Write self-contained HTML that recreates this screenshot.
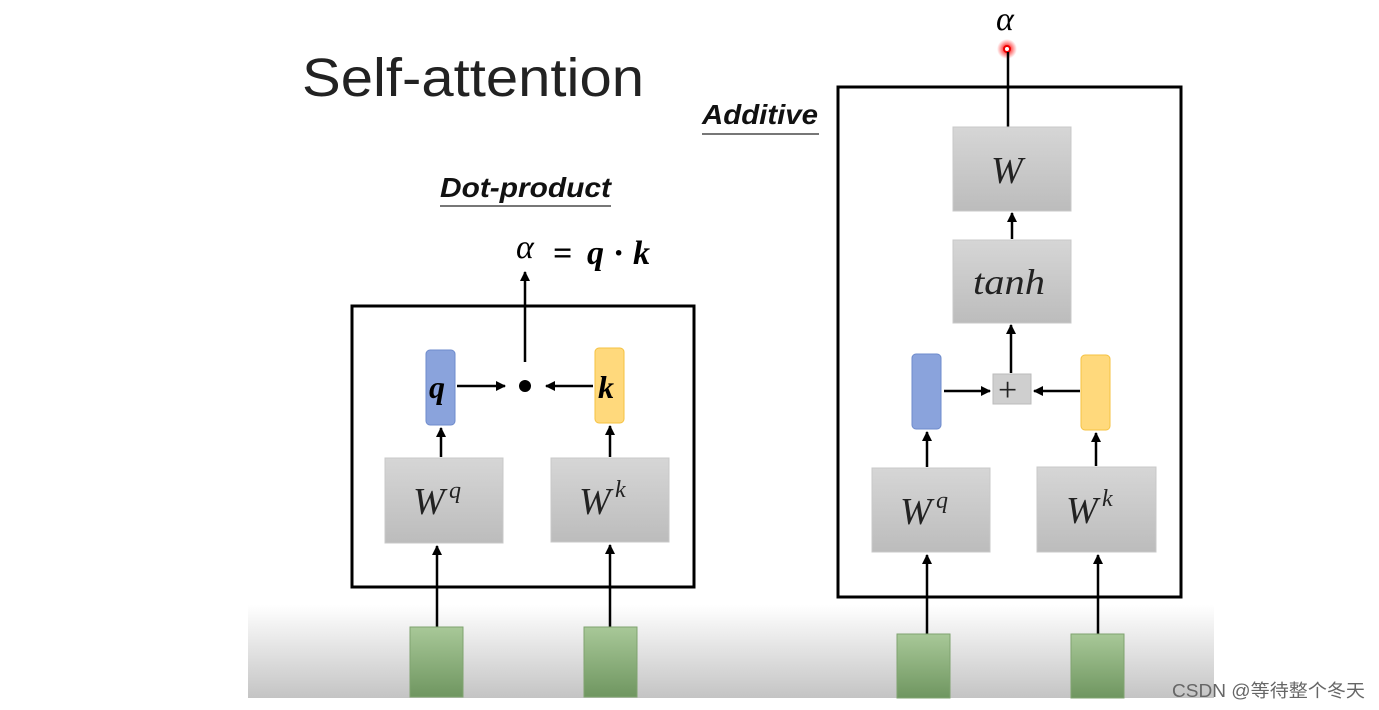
<!DOCTYPE html>
<html><head><meta charset="utf-8"><style>
html,body{margin:0;padding:0;background:#fff;}
svg{display:block;}
text{font-family:"Liberation Serif",serif;}
</style></head><body>
<svg width="1379" height="710" viewBox="0 0 1379 710" xmlns="http://www.w3.org/2000/svg">
<defs>
<linearGradient id="bg" x1="0" y1="0" x2="0" y2="1">
<stop offset="0" stop-color="#ffffff"/><stop offset="1" stop-color="#c4c4c4"/>
</linearGradient>
<linearGradient id="gr" x1="0" y1="0" x2="0" y2="1">
<stop offset="0" stop-color="#d6d6d6"/><stop offset="1" stop-color="#bcbcbc"/>
</linearGradient>
<linearGradient id="gn" x1="0" y1="0" x2="0" y2="1">
<stop offset="0" stop-color="#a8c898"/><stop offset="1" stop-color="#6f9660"/>
</linearGradient>
<radialGradient id="rd"><stop offset="0.3" stop-color="#ff2020" stop-opacity="0.9"/><stop offset="1" stop-color="#ff4040" stop-opacity="0"/></radialGradient>
<marker id="ar" viewBox="0 0 10 10" refX="9" refY="5" markerWidth="4" markerHeight="4" orient="auto"><path d="M0,0 L10,5 L0,10 z" fill="#000"/></marker>
</defs>
<rect x="248" y="605" width="966" height="93" fill="url(#bg)"/>
<text x="302" y="96" font-size="54" fill="#222" textLength="342" lengthAdjust="spacingAndGlyphs" style="font-family:'Liberation Sans',sans-serif">Self-attention</text>
<text x="702" y="124" font-size="28" font-weight="bold" font-style="italic" fill="#111" style="font-family:'Liberation Sans',sans-serif" textLength="116" lengthAdjust="spacingAndGlyphs">Additive</text>
<line x1="702" y1="134" x2="819" y2="134" stroke="#777" stroke-width="2"/>
<text x="440" y="197" font-size="28" font-weight="bold" font-style="italic" fill="#111" style="font-family:'Liberation Sans',sans-serif" textLength="171" lengthAdjust="spacingAndGlyphs">Dot-product</text>
<line x1="440" y1="206" x2="611" y2="206" stroke="#777" stroke-width="2"/>

<!-- Dot-product -->
<text x="516" y="258" font-size="34" font-style="italic">α</text>
<text x="553" y="264" font-size="34" font-weight="bold">=</text>
<text x="587" y="264" font-size="34" font-weight="bold" font-style="italic">q</text>
<text x="613" y="264" font-size="34" font-weight="bold">·</text>
<text x="633" y="264" font-size="34" font-weight="bold" font-style="italic">k</text>
<rect x="352" y="306" width="342" height="281" fill="none" stroke="#000" stroke-width="3"/>
<line x1="525" y1="362" x2="525" y2="272" stroke="#000" stroke-width="2.5" marker-end="url(#ar)"/>
<circle cx="525" cy="386" r="6" fill="#000"/>
<rect x="426" y="350" width="29" height="75" rx="4" fill="#8aa3dc" stroke="#6e8bcc"/>
<text x="429" y="398" font-size="32" font-weight="bold" font-style="italic">q</text>
<rect x="595" y="348" width="29" height="75" rx="4" fill="#ffd97c" stroke="#f5c242"/>
<text x="598" y="398" font-size="32" font-weight="bold" font-style="italic">k</text>
<line x1="457" y1="386" x2="505" y2="386" stroke="#000" stroke-width="2.5" marker-end="url(#ar)"/>
<line x1="593" y1="386" x2="546" y2="386" stroke="#000" stroke-width="2.5" marker-end="url(#ar)"/>
<rect x="385" y="458" width="118" height="85" fill="url(#gr)" stroke="#c8c8c8"/>
<rect x="551" y="458" width="118" height="84" fill="url(#gr)" stroke="#c8c8c8"/>
<text x="413" y="514" font-size="38" font-style="italic" fill="#222">W</text><text x="449" y="498" font-size="24" font-style="italic" fill="#222">q</text>
<text x="579" y="514" font-size="38" font-style="italic" fill="#222">W</text><text x="615" y="497" font-size="24" font-style="italic" fill="#222">k</text>
<line x1="441" y1="457" x2="441" y2="428" stroke="#000" stroke-width="2.5" marker-end="url(#ar)"/>
<line x1="610" y1="457" x2="610" y2="426" stroke="#000" stroke-width="2.5" marker-end="url(#ar)"/>
<line x1="437" y1="628" x2="437" y2="546" stroke="#000" stroke-width="2.5" marker-end="url(#ar)"/>
<line x1="610" y1="628" x2="610" y2="545" stroke="#000" stroke-width="2.5" marker-end="url(#ar)"/>
<rect x="410" y="627" width="53" height="70" fill="url(#gn)" stroke="#7fa36f"/>
<rect x="584" y="627" width="53" height="70" fill="url(#gn)" stroke="#7fa36f"/>

<!-- Additive -->
<text x="996" y="30" font-size="34" font-style="italic">α</text>
<circle cx="1007" cy="49" r="10" fill="url(#rd)"/>
<circle cx="1007" cy="49" r="3" fill="#fff" stroke="#e00" stroke-width="2"/>
<line x1="1008" y1="52" x2="1008" y2="127" stroke="#000" stroke-width="2.5"/>
<rect x="838" y="87" width="343" height="510" fill="none" stroke="#000" stroke-width="3"/>
<rect x="953" y="127" width="118" height="84" fill="url(#gr)" stroke="#c8c8c8"/>
<text x="991" y="183" font-size="38" font-style="italic" fill="#222">W</text>
<rect x="953" y="240" width="118" height="83" fill="url(#gr)" stroke="#c8c8c8"/>
<text x="973" y="294" font-size="36" font-style="italic" fill="#222" textLength="72" lengthAdjust="spacingAndGlyphs">tanh</text>
<line x1="1012" y1="239" x2="1012" y2="213" stroke="#000" stroke-width="2.5" marker-end="url(#ar)"/>
<line x1="1011" y1="373" x2="1011" y2="325" stroke="#000" stroke-width="2.5" marker-end="url(#ar)"/>
<rect x="993" y="374" width="38" height="30" fill="#cfcfcf" stroke="#bbb"/>
<text x="998" y="401" font-size="34" fill="#222">+</text>
<rect x="912" y="354" width="29" height="75" rx="4" fill="#8aa3dc" stroke="#6e8bcc"/>
<rect x="1081" y="355" width="29" height="75" rx="4" fill="#ffd97c" stroke="#f5c242"/>
<line x1="944" y1="391" x2="990" y2="391" stroke="#000" stroke-width="2.5" marker-end="url(#ar)"/>
<line x1="1080" y1="391" x2="1034" y2="391" stroke="#000" stroke-width="2.5" marker-end="url(#ar)"/>
<rect x="872" y="468" width="118" height="84" fill="url(#gr)" stroke="#c8c8c8"/>
<rect x="1037" y="467" width="119" height="85" fill="url(#gr)" stroke="#c8c8c8"/>
<text x="900" y="524" font-size="38" font-style="italic" fill="#222">W</text><text x="936" y="508" font-size="24" font-style="italic" fill="#222">q</text>
<text x="1066" y="523" font-size="38" font-style="italic" fill="#222">W</text><text x="1102" y="506" font-size="24" font-style="italic" fill="#222">k</text>
<line x1="927" y1="467" x2="927" y2="432" stroke="#000" stroke-width="2.5" marker-end="url(#ar)"/>
<line x1="1096" y1="466" x2="1096" y2="433" stroke="#000" stroke-width="2.5" marker-end="url(#ar)"/>
<line x1="927" y1="635" x2="927" y2="555" stroke="#000" stroke-width="2.5" marker-end="url(#ar)"/>
<line x1="1098" y1="635" x2="1098" y2="555" stroke="#000" stroke-width="2.5" marker-end="url(#ar)"/>
<rect x="897" y="634" width="53" height="64" fill="url(#gn)" stroke="#7fa36f"/>
<rect x="1071" y="634" width="53" height="64" fill="url(#gn)" stroke="#7fa36f"/>

<text x="1172" y="697" font-size="18" fill="#666" textLength="193" lengthAdjust="spacingAndGlyphs" style="font-family:'Liberation Sans','Noto Sans CJK SC',sans-serif">CSDN @等待整个冬天</text>
</svg>
</body></html>
